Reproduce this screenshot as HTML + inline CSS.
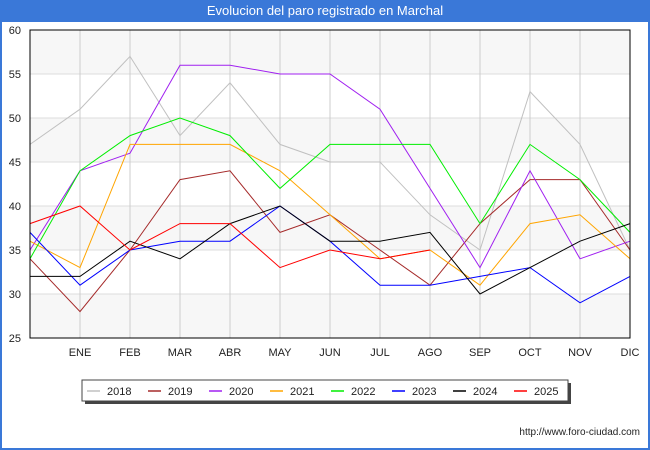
<!DOCTYPE html>
<html><head><meta charset="utf-8"><style>
body{margin:0;width:650px;height:450px;background:#fff;font-family:"Liberation Sans","DejaVu Sans",sans-serif;overflow:hidden;position:relative}
#title{position:absolute;left:0;top:0;width:650px;height:22px;background:#3a78d8;color:#fff;font-size:13px;text-align:center;line-height:22px}
#border{position:absolute;left:0;top:22px;width:646px;height:426px;border:2px solid #3a78d8;border-top:none}
#url{position:absolute;right:10px;top:427px;font-size:10px;color:#222}
</style></head><body>
<div id="title">Evolucion del paro registrado en Marchal</div>
<div id="border"></div>
<svg id="chart" width="650" height="450" style="position:absolute;left:0;top:0"></svg>
<div id="url">http://www.foro-ciudad.com</div>
<script>
const months=["","ENE","FEB","MAR","ABR","MAY","JUN","JUL","AGO","SEP","OCT","NOV","DIC"];
const yTicks=[25,30,35,40,45,50,55,60];
const years=["2018","2019","2020","2021","2022","2023","2024","2025"];
const colors=["#c0c0c0","#a52a2a","#a020f0","#ffa500","#00ee00","#0000ff","#000000","#ff0000"];
const s2018=[47,51,57,48,54,47,45,45,39,35,53,47,35];
const s2019=[34,28,35,43,44,37,39,35,31,38,43,43,35];
const s2020=[35,44,46,56,56,55,55,51,42,33,44,34,36];
const s2021=[36,33,47,47,47,44,39,34,35,31,38,39,34];
const s2022=[34,44,48,50,48,42,47,47,47,38,47,43,37];
const s2023=[37,31,35,36,36,40,36,31,31,32,33,29,32];
const s2024=[32,32,36,34,38,40,36,36,37,30,33,36,38];
const s2025=[38,40,35,38,38,33,35,34,35];
const series=[s2018,s2019,s2020,s2021,s2022,s2023,s2024,s2025];
const NS="http://www.w3.org/2000/svg";
const svg=document.getElementById('chart');
const L=30,R=630,T=30,B=338,ymin=25,ymax=60;
const x=i=>L+i*(R-L)/12;
const y=v=>B-(v-ymin)*(B-T)/(ymax-ymin);
function mk(tag,attrs,parent){const e=document.createElementNS(NS,tag);for(const k in attrs)e.setAttribute(k,attrs[k]);(parent||svg).appendChild(e);return e;}
// bands
for(let i=0;i<yTicks.length-1;i++){
  if(i%2===0){const b=mk('rect',{x:L,y:y(yTicks[i+1]),width:R-L,height:y(yTicks[i])-y(yTicks[i+1]),fill:'#f7f7f7'});
  
  }
}
yTicks.forEach(v=>{
  const g=mk('line',{x1:L,x2:R,y1:y(v),y2:y(v),stroke:'#dddddd','stroke-width':1});
  
  
  const t=mk('text',{x:21,y:y(v)+4,'text-anchor':'end','font-size':11,fill:'#222'});
  t.textContent=v;
  
  
});
months.forEach((m,i)=>{
  if(i>0){const g=mk('line',{x1:x(i),x2:x(i),y1:T,y2:B,stroke:'#cccccc','stroke-width':1});
  
  }
  if(m){const t=mk('text',{x:x(i),y:356,'text-anchor':'middle','font-size':11,fill:'#222'});
  t.textContent=m;
  
  }
});
series.forEach((s,k)=>{
  const p=mk('polyline',{points:s.map((v,i)=>x(i)+','+y(v)).join(' '),fill:'none',stroke:colors[k],'stroke-width':1});
  
  
});
const ax=mk('rect',{x:L,y:T,width:R-L,height:B-T,fill:'none',stroke:'#000','stroke-width':1});


// legend
mk('rect',{x:85,y:383,width:486,height:21,fill:'#444'});
const lg=mk('rect',{x:82,y:380,width:486,height:21,fill:'#fff',stroke:'#444'});


years.forEach((yr,k)=>{
  const lx=87+k*61;
  const l=mk('line',{x1:lx,x2:lx+13,y1:391,y2:391,stroke:colors[k],'stroke-width':1.5});
  
  
  const t=mk('text',{x:lx+20,y:395,'font-size':11,fill:'#222'});
  t.textContent=yr;
  
  
});
</script>
</body></html>
